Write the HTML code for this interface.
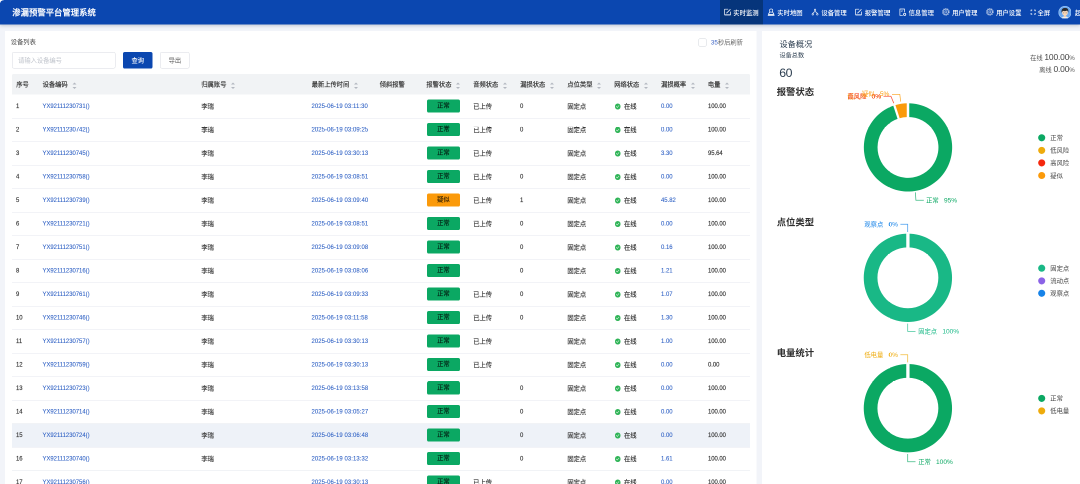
<!DOCTYPE html>
<html lang="zh-CN"><head><meta charset="utf-8"><title>渗漏预警平台管理系统</title>
<style>
*{box-sizing:border-box;margin:0;padding:0}
html,body{width:1080px;height:484px;overflow:hidden;background:#f2f4f9}
body{font-family:"Liberation Sans","Noto Sans CJK SC",sans-serif;color:#444}
#app{position:absolute;left:0;top:0;width:2160px;height:968px;transform:scale(.5);transform-origin:0 0;overflow:hidden;will-change:transform;background:#f2f4f9;font-size:12.54px}
.hdr{position:absolute;left:0;top:0;width:100%;height:49.00px;background:#0b47b0;box-shadow:0 2.00px 7.00px rgba(40,60,90,.28);z-index:3}
.corner{position:absolute;left:0;top:0;width:8.00px;height:6.00px;background:radial-gradient(ellipse 8.00px 6.00px at 100% 100%,rgba(255,255,255,0) 88%,#fff 100%);z-index:5}
.title{position:absolute;left:24.60px;top:0;line-height:52.80px;font-size:16.72px;font-weight:500;-webkit-text-stroke:.35px #fff;color:#fff;white-space:nowrap}
.act{position:absolute;left:1440.00px;top:0;width:86.00px;height:100%;background:#06357b}
.ico{position:absolute;fill:none;stroke:#fff;stroke-width:1.25;stroke-linejoin:round;stroke-linecap:butt;overflow:visible}
.nt{position:absolute;top:0;line-height:52.00px;font-size:12.66px;font-weight:500;color:#fff;white-space:nowrap}
.ava{position:absolute;left:2116.70px;top:11.70px;width:25.80px;height:25.80px}
.card{position:absolute;background:#fff}
.left{left:10.40px;top:62.00px;width:1502.20px;height:920.00px}
.right{left:1524.40px;top:62.00px;width:660.00px;height:920.00px}
.ct{position:absolute;left:11.00px;top:10.20px;line-height:24.00px;font-size:12.60px;color:#4a4a4a;white-space:nowrap}
.inp{position:absolute;left:13.60px;top:42.40px;width:206.80px;height:32.40px;border:1.5px solid #d6d9e0;border-radius:3.60px;line-height:32.80px;padding-left:11.20px;color:#bfc3cb;font-size:12.54px;white-space:nowrap}
.btn{position:absolute;top:42.40px;height:33.00px;border-radius:3.60px;line-height:33.80px;text-align:center;font-size:12.54px;white-space:nowrap}
.pri{left:236.00px;width:58.40px;background:#0b47b0;color:#fff;font-weight:500;line-height:35.80px}
.exp{left:309.60px;width:59.40px;border:1.5px solid #d6d9e0;color:#555;background:#fff}
.chk{position:absolute;left:1386.40px;top:14.80px;width:16.20px;height:16.20px;border:1.5px solid #d0d4db;border-radius:2.40px;background:#fff}
.rf{position:absolute;left:1411.40px;top:11.00px;line-height:24.00px;font-size:12.54px;color:#666;white-space:nowrap}
.rf b{font-weight:400;color:#3b63c4}
.tbl{position:absolute;left:13.60px;top:85.60px;width:1476.20px}
.th{position:relative;height:41.20px;background:#f1f3f5;border-radius:3.00px 3.00px 0 0;color:#333;font-weight:400}
.th .c{line-height:42.20px;top:0}
.tr{position:relative;height:47.00px}
.tr:after{content:"";position:absolute;left:0;right:0;bottom:-1px;height:1px;background:#e4e7ee;z-index:2}
.hv{background:#eef2f8}
.c{position:absolute;top:1.30px;line-height:47.00px;white-space:nowrap;color:#3a3a3a;-webkit-text-stroke:.3px currentColor}
.tr .n,.tr .l{top:-0.70px}
.tr .c6{top:0}
.th .c{color:#2f2f2f}
.c1{left:8.40px}
.c2{left:61.20px}
.c3{left:378.80px}
.c4{left:599.40px}
.c5{left:735.40px}
.c6{left:828.80px}
.c7{left:922.40px}
.c8{left:1016.40px}
.c9{left:1110.80px}
.c10{left:1204.40px}
.c11{left:1298.20px}
.c12{left:1391.80px}
.n{color:#333}
.l{color:#2f61c4}
.n,.l{font-size:13.20px;transform:scaleX(.9);transform-origin:0 50%}
.l{-webkit-text-stroke:.18px currentColor!important}
.lc{letter-spacing:-.04px}
.lt{letter-spacing:.2px}
.lp{letter-spacing:0}
.lb{letter-spacing:-.1px}
.so{display:inline-block;position:relative;width:9.40px;height:13.60px;margin-left:9.40px;vertical-align:middle;top:2.20px}
.so:before,.so:after{content:"";position:absolute;left:0;border:4.70px solid transparent}
.so:before{top:-3.50px;border-bottom-color:#b3b7c0}
.so:after{bottom:-3.50px;border-top-color:#b3b7c0}
.bd{display:block;position:absolute;left:1.00px;top:10.00px;width:66.00px;height:25.80px;border-radius:3.60px;line-height:25.80px;text-align:center;font-weight:400;color:rgba(0,0,0,.72);font-size:12.54px}
.ok{background:#0ba863}
.wn{background:#fb9a0a}
.on{display:inline-block;vertical-align:middle;width:11.80px;height:11.80px;border-radius:50%;background:#2fb457;margin-left:1.20px;position:relative;top:-0.70px}
.on:after{content:"";position:absolute;left:3.90px;top:2.30px;width:3.20px;height:5.40px;border:solid #fff;border-width:0 1.60px 1.60px 0;transform:rotate(42deg)}
.c10 em{font-style:normal;margin-left:6.60px;color:#333}
.ov{position:absolute;white-space:nowrap}
.charts{position:absolute;left:0;top:0;width:660.00px;height:920.00px;font-family:"Liberation Sans","Noto Sans CJK SC",sans-serif}
</style></head><body>
<div id="app">
<div class="hdr">
<div class="title">渗漏预警平台管理系统</div>
<div class="act"></div>
<svg class="ico" style="left:1448.30px;width:14.20px;height:14.20px;top:16.90px" viewBox="0 0 14 14"><path d="M8.2 1.3H1.3V12.7H12.7V6.2" stroke-width="1.35"/><path d="M4.8 9.4L12.7 1.5" stroke-width="1.6"/><path d="M1.3 12.5H12.7" stroke-width="1.7"/></svg><span class="nt" style="left:1466.60px">实时监测</span><svg class="ico" style="left:1535.30px;width:14.60px;height:14.60px;top:16.70px" viewBox="0 0 14 14"><circle cx="7" cy="3.9" r="3.1"/><path d="M4.4 6.4L1.6 11.4H12.4L9.6 6.4M0.6 13.2H13.4" stroke-width="1.5"/></svg><span class="nt" style="left:1554.60px">实时地图</span><svg class="ico" style="left:1623.30px;width:14.20px;height:14.20px;top:16.90px" viewBox="0 0 14 14"><circle cx="7" cy="2.6" r="1.5" stroke-width="1.2"/><circle cx="2.5" cy="11.500" r="1.5" stroke-width="1.2"/><circle cx="11.500" cy="11.500" r="1.5" stroke-width="1.2"/><path d="M7 4.2V6.4M7 6.2C4.2 7 2.8 8.2 2.600 9.900M7 6.2C9.800 7 11.200 8.2 11.400 9.900" stroke-width="1.25"/></svg><span class="nt" style="left:1642.80px">设备管理</span><svg class="ico" style="left:1709.90px;width:14.20px;height:14.20px;top:16.90px" viewBox="0 0 14 14"><path d="M8.2 1.3H1.3V12.7H12.7V6.2" stroke-width="1.35"/><path d="M4.8 9.4L12.7 1.5" stroke-width="1.6"/><path d="M1.3 12.5H12.7" stroke-width="1.7"/></svg><span class="nt" style="left:1729.40px">报警管理</span><svg class="ico" style="left:1797.80px;width:14.80px;height:14.80px;top:16.60px" viewBox="0 0 14 14"><path d="M10.4 7.2V0.900H1.700V13.100H7.200" stroke-width="1.3"/><path d="M4.200 3.800V6.400M6.400 3.800V5.400" stroke-width="1.100"/><circle cx="10.700" cy="11.100" r="2.100" stroke-width="1.500"/></svg><span class="nt" style="left:1817.20px">信息管理</span><svg class="ico" style="left:1884.30px;width:15.40px;height:15.40px;top:16.30px" viewBox="0 0 14 14"><g opacity=".68"><circle cx="7" cy="7" r="5.900" stroke-dasharray="2.300 1.410" stroke-width="1.900"/><circle cx="7" cy="7" r="4.700" stroke-width="1.300"/><circle cx="7" cy="7" r="2.000" stroke-width="1.200"/></g></svg><span class="nt" style="left:1904.20px">用户管理</span><svg class="ico" style="left:1972.10px;width:15.40px;height:15.40px;top:16.30px" viewBox="0 0 14 14"><g opacity=".68"><circle cx="7" cy="7" r="5.900" stroke-dasharray="2.300 1.410" stroke-width="1.900"/><circle cx="7" cy="7" r="4.700" stroke-width="1.300"/><circle cx="7" cy="7" r="2.000" stroke-width="1.200"/></g></svg><span class="nt" style="left:1992.20px">用户设置</span><svg class="ico" style="left:2060.80px;width:10.60px;height:10.60px;top:19.30px" viewBox="0 0 14 14"><path d="M1.500 4.600V1.500H4.600M9.400 1.500H12.500V4.600M12.500 9.400V12.500H9.400M4.600 12.500H1.500V9.400" stroke-width="2.3" stroke-opacity=".92"/></svg><span class="nt" style="left:2075.00px">全屏</span>
<svg class="ava" viewBox="0 0 24 24"><defs><clipPath id="av"><circle cx="12" cy="12" r="12"/></clipPath></defs><g clip-path="url(#av)"><rect width="24" height="24" fill="#6aa9f2"/><path d="M4.500 26c0-5 3.500-6.600 7.500-6.600s7.500 1.600 7.500 6.600z" fill="#f1eee8"/><rect x="10.200" y="15.500" width="3.600" height="4.800" fill="#f0c8a6"/><ellipse cx="12" cy="12.400" rx="5.300" ry="5.700" fill="#f7d7b9"/><path d="M5.900 12.600C4.600 6.200 8 3.600 12.200 3.600c4.600 0 7.300 2.800 5.900 9-.4-2.300-1.100-3.500-2.100-4.300-2.100 1.200-5.400 1.400-7.800.8-1 .9-1.700 2-2.300 3.500z" fill="#2b2b2f"/><circle cx="9.900" cy="12.900" r=".75" fill="#4a3a33"/><circle cx="14.100" cy="12.900" r=".75" fill="#4a3a33"/></g><circle cx="12" cy="12" r="11.500" fill="none" stroke="#a9cdf8" stroke-width="1"/></svg>
<span class="nt" style="left:2150.00px">超级管理员</span>
</div>
<div class="corner"></div>
<div class="card left">
<div class="ct">设备列表</div>
<div class="inp">请输入设备编号</div>
<div class="btn pri">查询</div>
<div class="btn exp">导出</div>
<div class="chk"></div><div class="rf"><b>35</b>秒后刷新</div>
<div class="tbl">
<div class="th"><span class="c c1">序号</span><span class="c c2">设备编码<i class=so></i></span><span class="c c3">归属账号<i class=so></i></span><span class="c c4">最新上传时间<i class=so></i></span><span class="c c5">倾斜报警</span><span class="c c6">报警状态<i class=so></i></span><span class="c c7">音频状态<i class=so></i></span><span class="c c8">漏损状态<i class=so></i></span><span class="c c9">点位类型<i class=so></i></span><span class="c c10">网络状态<i class=so></i></span><span class="c c11">漏损概率<i class=so></i></span><span class="c c12">电量<i class=so></i></span></div>
<div class="tr"><span class="c c1 n">1</span><span class="c c2 l lc">YX92111230731()</span><span class="c c3">李瑞</span><span class="c c4 l lt">2025-06-19 03:11:30</span><span class="c c6"><b class="bd ok">正常</b></span><span class="c c7">已上传</span><span class="c c8 n">0</span><span class="c c9">固定点</span><span class="c c10"><i class="on"></i><em>在线</em></span><span class="c c11 l lp">0.00</span><span class="c c12 n lb">100.00</span></div>
<div class="tr"><span class="c c1 n">2</span><span class="c c2 l lc">YX92111230742()</span><span class="c c3">李瑞</span><span class="c c4 l lt">2025-06-19 03:09:25</span><span class="c c6"><b class="bd ok">正常</b></span><span class="c c7">已上传</span><span class="c c8 n">0</span><span class="c c9">固定点</span><span class="c c10"><i class="on"></i><em>在线</em></span><span class="c c11 l lp">0.00</span><span class="c c12 n lb">100.00</span></div>
<div class="tr"><span class="c c1 n">3</span><span class="c c2 l lc">YX92111230745()</span><span class="c c3">李瑞</span><span class="c c4 l lt">2025-06-19 03:30:13</span><span class="c c6"><b class="bd ok">正常</b></span><span class="c c7">已上传</span><span class="c c8 n"></span><span class="c c9">固定点</span><span class="c c10"><i class="on"></i><em>在线</em></span><span class="c c11 l lp">3.30</span><span class="c c12 n lb">95.64</span></div>
<div class="tr"><span class="c c1 n">4</span><span class="c c2 l lc">YX92111230758()</span><span class="c c3">李瑞</span><span class="c c4 l lt">2025-06-19 03:08:51</span><span class="c c6"><b class="bd ok">正常</b></span><span class="c c7">已上传</span><span class="c c8 n">0</span><span class="c c9">固定点</span><span class="c c10"><i class="on"></i><em>在线</em></span><span class="c c11 l lp">0.00</span><span class="c c12 n lb">100.00</span></div>
<div class="tr"><span class="c c1 n">5</span><span class="c c2 l lc">YX92111230739()</span><span class="c c3">李瑞</span><span class="c c4 l lt">2025-06-19 03:09:40</span><span class="c c6"><b class="bd wn">疑似</b></span><span class="c c7">已上传</span><span class="c c8 n">1</span><span class="c c9">固定点</span><span class="c c10"><i class="on"></i><em>在线</em></span><span class="c c11 l lp">45.82</span><span class="c c12 n lb">100.00</span></div>
<div class="tr"><span class="c c1 n">6</span><span class="c c2 l lc">YX92111230721()</span><span class="c c3">李瑞</span><span class="c c4 l lt">2025-06-19 03:08:51</span><span class="c c6"><b class="bd ok">正常</b></span><span class="c c7">已上传</span><span class="c c8 n">0</span><span class="c c9">固定点</span><span class="c c10"><i class="on"></i><em>在线</em></span><span class="c c11 l lp">0.00</span><span class="c c12 n lb">100.00</span></div>
<div class="tr"><span class="c c1 n">7</span><span class="c c2 l lc">YX92111230751()</span><span class="c c3">李瑞</span><span class="c c4 l lt">2025-06-19 03:09:08</span><span class="c c6"><b class="bd ok">正常</b></span><span class="c c7"></span><span class="c c8 n">0</span><span class="c c9">固定点</span><span class="c c10"><i class="on"></i><em>在线</em></span><span class="c c11 l lp">0.16</span><span class="c c12 n lb">100.00</span></div>
<div class="tr"><span class="c c1 n">8</span><span class="c c2 l lc">YX92111230716()</span><span class="c c3">李瑞</span><span class="c c4 l lt">2025-06-19 03:08:06</span><span class="c c6"><b class="bd ok">正常</b></span><span class="c c7"></span><span class="c c8 n">0</span><span class="c c9">固定点</span><span class="c c10"><i class="on"></i><em>在线</em></span><span class="c c11 l lp">1.21</span><span class="c c12 n lb">100.00</span></div>
<div class="tr"><span class="c c1 n">9</span><span class="c c2 l lc">YX92111230761()</span><span class="c c3">李瑞</span><span class="c c4 l lt">2025-06-19 03:09:33</span><span class="c c6"><b class="bd ok">正常</b></span><span class="c c7">已上传</span><span class="c c8 n">0</span><span class="c c9">固定点</span><span class="c c10"><i class="on"></i><em>在线</em></span><span class="c c11 l lp">1.07</span><span class="c c12 n lb">100.00</span></div>
<div class="tr"><span class="c c1 n">10</span><span class="c c2 l lc">YX92111230746()</span><span class="c c3">李瑞</span><span class="c c4 l lt">2025-06-19 03:11:58</span><span class="c c6"><b class="bd ok">正常</b></span><span class="c c7">已上传</span><span class="c c8 n">0</span><span class="c c9">固定点</span><span class="c c10"><i class="on"></i><em>在线</em></span><span class="c c11 l lp">1.30</span><span class="c c12 n lb">100.00</span></div>
<div class="tr"><span class="c c1 n">11</span><span class="c c2 l lc">YX92111230757()</span><span class="c c3">李瑞</span><span class="c c4 l lt">2025-06-19 03:30:13</span><span class="c c6"><b class="bd ok">正常</b></span><span class="c c7">已上传</span><span class="c c8 n"></span><span class="c c9">固定点</span><span class="c c10"><i class="on"></i><em>在线</em></span><span class="c c11 l lp">1.00</span><span class="c c12 n lb">100.00</span></div>
<div class="tr"><span class="c c1 n">12</span><span class="c c2 l lc">YX92111230759()</span><span class="c c3">李瑞</span><span class="c c4 l lt">2025-06-19 03:30:13</span><span class="c c6"><b class="bd ok">正常</b></span><span class="c c7">已上传</span><span class="c c8 n"></span><span class="c c9">固定点</span><span class="c c10"><i class="on"></i><em>在线</em></span><span class="c c11 l lp">0.00</span><span class="c c12 n lb">0.00</span></div>
<div class="tr"><span class="c c1 n">13</span><span class="c c2 l lc">YX92111230723()</span><span class="c c3">李瑞</span><span class="c c4 l lt">2025-06-19 03:13:58</span><span class="c c6"><b class="bd ok">正常</b></span><span class="c c7"></span><span class="c c8 n">0</span><span class="c c9">固定点</span><span class="c c10"><i class="on"></i><em>在线</em></span><span class="c c11 l lp">0.00</span><span class="c c12 n lb">100.00</span></div>
<div class="tr"><span class="c c1 n">14</span><span class="c c2 l lc">YX92111230714()</span><span class="c c3">李瑞</span><span class="c c4 l lt">2025-06-19 03:05:27</span><span class="c c6"><b class="bd ok">正常</b></span><span class="c c7"></span><span class="c c8 n">0</span><span class="c c9">固定点</span><span class="c c10"><i class="on"></i><em>在线</em></span><span class="c c11 l lp">0.00</span><span class="c c12 n lb">100.00</span></div>
<div class="tr hv"><span class="c c1 n">15</span><span class="c c2 l lc">YX92111230724()</span><span class="c c3">李瑞</span><span class="c c4 l lt">2025-06-19 03:06:48</span><span class="c c6"><b class="bd ok">正常</b></span><span class="c c7"></span><span class="c c8 n">0</span><span class="c c9">固定点</span><span class="c c10"><i class="on"></i><em>在线</em></span><span class="c c11 l lp">0.00</span><span class="c c12 n lb">100.00</span></div>
<div class="tr"><span class="c c1 n">16</span><span class="c c2 l lc">YX92111230740()</span><span class="c c3">李瑞</span><span class="c c4 l lt">2025-06-19 03:13:32</span><span class="c c6"><b class="bd ok">正常</b></span><span class="c c7"></span><span class="c c8 n">0</span><span class="c c9">固定点</span><span class="c c10"><i class="on"></i><em>在线</em></span><span class="c c11 l lp">1.61</span><span class="c c12 n lb">100.00</span></div>
<div class="tr"><span class="c c1 n">17</span><span class="c c2 l lc">YX92111230756()</span><span class="c c3"></span><span class="c c4 l lt">2025-06-19 03:30:13</span><span class="c c6"><b class="bd ok">正常</b></span><span class="c c7">已上传</span><span class="c c8 n"></span><span class="c c9">固定点</span><span class="c c10"><i class="on"></i><em>在线</em></span><span class="c c11 l lp">0.00</span><span class="c c12 n lb">100.00</span></div>
</div>
</div>
<div class="card right">
<div class="ov" style="left:34.60px;top:9.80px;line-height:32.00px;font-size:16.40px;color:#2c3e50">设备概况</div>
<div class="ov" style="left:34.60px;top:37.40px;line-height:24.00px;font-size:12.30px;color:#2c3e50">设备总数</div>
<div class="ov" style="left:34.00px;top:63.80px;line-height:40.00px;font-size:24.60px;color:#2c3e50;letter-spacing:-.8px">60</div>
<div class="ov" style="right:34.80px;top:38.80px;line-height:28.00px;font-size:12.54px;color:#555"><span>在线</span> <span style="font-size:16.90px;color:#444;letter-spacing:-.3px">100.00</span><span style="font-size:12.40px">%</span></div>
<div class="ov" style="right:34.80px;top:63.20px;line-height:28.00px;font-size:12.54px;color:#555"><span>离线</span> <span style="font-size:16.90px;color:#444;letter-spacing:-.3px">0.00</span><span style="font-size:12.40px">%</span></div>
<div class="ov" style="left:29.00px;top:105.60px;line-height:32.00px;font-size:18.70px;font-weight:700;color:#2e2e2e">报警状态</div>
<div class="ov" style="left:29.00px;top:366.80px;line-height:32.00px;font-size:18.70px;font-weight:700;color:#2e2e2e">点位类型</div>
<div class="ov" style="left:29.00px;top:627.60px;line-height:32.00px;font-size:18.70px;font-weight:700;color:#2e2e2e">电量统计</div>
<svg class="charts" viewBox="0.2 0 330 460">
<path d="M146.20 72.25A44.15 44.15 0 1 1 132.56 74.41L136.79 87.44A30.45 30.45 0 1 0 146.20 85.95Z" fill="#0ba863"/>
<path d="M132.56 74.41A44.15 44.15 0 0 1 146.20 72.25L146.20 85.95A30.45 30.45 0 0 0 136.79 87.44Z" fill="#fb9a0a"/>
<line x1="146.20" y1="87.45" x2="146.20" y2="70.75" stroke="#fff" stroke-width="2.5"/>
<line x1="137.25" y1="88.87" x2="132.09" y2="72.98" stroke="#fff" stroke-width="2.2"/>
<polyline points="132.00,72.20 129.10,65.20 121.70,65.20" fill="none" stroke="#f5280d" stroke-width="0.75" stroke-opacity=".8"/>
<polyline points="138.90,70.60 138.00,63.40 130.20,63.40" fill="none" stroke="#fb9a0a" stroke-width="0.75" stroke-opacity=".8"/>
<text x="119.30" y="67.30" fill="#eeab0c" font-size="6.3" text-anchor="end" >低风险&#160;&#160;&#160;<tspan font-size="6.55">0%</tspan></text>
<text x="119.30" y="67.30" fill="#f5280d" font-size="6.3" text-anchor="end" >高风险&#160;&#160;&#160;<tspan font-size="6.55">0%</tspan></text>
<text x="127.50" y="64.80" fill="#fb9a0a" font-size="6.3" text-anchor="end" >疑似&#160;&#160;&#160;<tspan font-size="6.55">5%</tspan></text>
<polyline points="153.60,161.40 154.10,169.20 162.00,169.20" fill="none" stroke="#0ba863" stroke-width="0.75" stroke-opacity=".8"/>
<text x="164.30" y="171.40" fill="#0ba863" font-size="6.3" text-anchor="start" >正常&#160;&#160;&#160;<tspan font-size="6.55">95%</tspan></text>
<path d="M146.10 202.65A44.15 44.15 0 1 1 146.09 202.65L146.09 216.35A30.45 30.45 0 1 0 146.10 216.35Z" fill="#19b886"/>
<line x1="146.10" y1="217.85" x2="146.10" y2="201.15" stroke="#fff" stroke-width="3.3"/>
<polyline points="145.90,201.00 145.90,193.30 138.60,193.30" fill="none" stroke="#1783e8" stroke-width="0.75" stroke-opacity=".8"/>
<text x="136.20" y="195.40" fill="#1783e8" font-size="6.3" text-anchor="end" >观察点&#160;&#160;&#160;<tspan font-size="6.55">0%</tspan></text>
<polyline points="145.90,292.60 145.90,300.40 153.70,300.40" fill="none" stroke="#19b886" stroke-width="0.75" stroke-opacity=".8"/>
<text x="156.40" y="302.50" fill="#19b886" font-size="6.3" text-anchor="start" >固定点&#160;&#160;&#160;<tspan font-size="6.55">100%</tspan></text>
<path d="M146.10 333.05A44.15 44.15 0 1 1 146.09 333.05L146.09 346.75A30.45 30.45 0 1 0 146.10 346.75Z" fill="#0ba863"/>
<line x1="146.10" y1="348.25" x2="146.10" y2="331.55" stroke="#fff" stroke-width="3.3"/>
<polyline points="145.90,331.40 145.90,323.70 138.60,323.70" fill="none" stroke="#eeab0c" stroke-width="0.75" stroke-opacity=".8"/>
<text x="136.20" y="325.80" fill="#eeab0c" font-size="6.3" text-anchor="end" >低电量&#160;&#160;&#160;<tspan font-size="6.55">0%</tspan></text>
<polyline points="145.90,423.00 145.90,430.80 153.70,430.80" fill="none" stroke="#0ba863" stroke-width="0.75" stroke-opacity=".8"/>
<text x="156.40" y="432.90" fill="#0ba863" font-size="6.3" text-anchor="start" >正常&#160;&#160;&#160;<tspan font-size="6.55">100%</tspan></text>
<circle cx="279.90" cy="106.80" r="3.55" fill="#0ba863"/>
<text x="288.50" y="109.05" fill="#444" font-size="6.3" text-anchor="start" >正常</text>
<circle cx="279.90" cy="119.40" r="3.55" fill="#eeab0c"/>
<text x="288.50" y="121.65" fill="#444" font-size="6.3" text-anchor="start" >低风险</text>
<circle cx="279.90" cy="131.90" r="3.55" fill="#f5280d"/>
<text x="288.50" y="134.15" fill="#444" font-size="6.3" text-anchor="start" >高风险</text>
<circle cx="279.90" cy="144.50" r="3.55" fill="#fb9a0a"/>
<text x="288.50" y="146.75" fill="#444" font-size="6.3" text-anchor="start" >疑似</text>
<circle cx="279.90" cy="237.20" r="3.55" fill="#19b886"/>
<text x="288.50" y="239.45" fill="#444" font-size="6.3" text-anchor="start" >固定点</text>
<circle cx="279.90" cy="249.90" r="3.55" fill="#8b63e6"/>
<text x="288.50" y="252.15" fill="#444" font-size="6.3" text-anchor="start" >流动点</text>
<circle cx="279.90" cy="262.30" r="3.55" fill="#1783e8"/>
<text x="288.50" y="264.55" fill="#444" font-size="6.3" text-anchor="start" >观察点</text>
<circle cx="279.90" cy="367.40" r="3.55" fill="#0ba863"/>
<text x="288.50" y="369.65" fill="#444" font-size="6.3" text-anchor="start" >正常</text>
<circle cx="279.90" cy="379.90" r="3.55" fill="#eeab0c"/>
<text x="288.50" y="382.15" fill="#444" font-size="6.3" text-anchor="start" >低电量</text>
</svg>
</div>
</div>
</body></html>
